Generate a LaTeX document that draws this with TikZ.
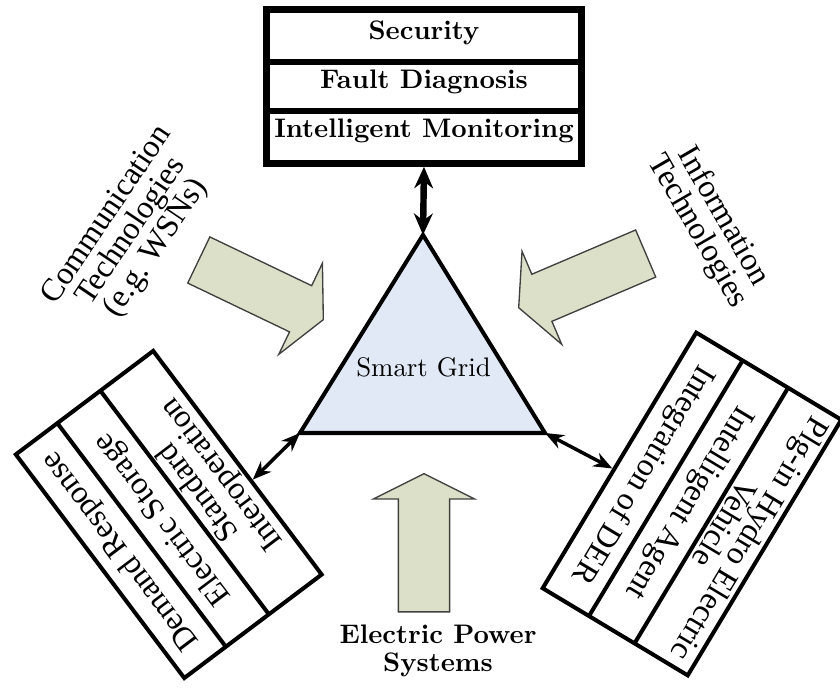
\documentclass[tikz,border=0pt]{standalone}
\usepackage{fontspec}
\newfontfamily\tms{Liberation Serif}
\usetikzlibrary{arrows.meta, calc, shapes.arrows, shapes.multipart}
\tikzset{>={Stealth[length=7pt,width=5.5pt]}}
\definecolor{gridfill}{HTML}{E2E9F6}
\definecolor{sage}{HTML}{DCE0C8}
% one row of a split box: [inner pos]{height}{width}{text}
\newcommand{\cell}[4][c]{\parbox[c][#2][#1]{#3}{\centering#4}}

\begin{document}
\begin{tikzpicture}[x=0.01311cm, y=-0.01311cm,
    tribox/.style={rectangle split, rectangle split parts=3, draw, inner sep=0pt},
    sidefont/.style={font=\tms\fontsize{12}{11}\selectfont},
    bigarrow/.style={single arrow, draw=black!75, fill=sage, line width=0.5pt,
      minimum width=37.3pt, minimum height=51.5pt, inner xsep=0pt, inner ysep=9.3pt,
      single arrow head extend=9.3pt, single arrow tip angle=127, anchor=tip},
  ]
  \useasboundingbox (0,0) rectangle (840,694);

  % the triangle
  \coordinate (apex) at (423,235);
  \coordinate (bl) at (300,433);
  \coordinate (br) at (545,433);
  \draw[fill=gridfill, line width=1.5pt] (apex) -- (bl) -- (br) -- cycle;
  \node (sg) at (423.5,367) {Smart Grid};

  % three split boxes
  \node[tribox, line width=2.5pt, font=\bfseries] (monitor) at (424,86.5) {%
    \cell[t]{17.05pt}{117.6pt}{\vspace{2.8pt}Security}%
    \nodepart{two}\cell[t]{15.8pt}{117.6pt}{\vspace{1.6pt}Fault Diagnosis}%
    \nodepart{three}\cell[t]{17.05pt}{117.6pt}{\vspace{1.6pt}Intelligent Monitoring}};
  \node[tribox, sidefont, line width=1.5pt, rotate=127] (storage) at (168.75,514.5) {%
    \cell{17.9pt}{104.4pt}{Demand Response}%
    \nodepart{two}\cell{18.6pt}{104.4pt}{Electric Storage}%
    \nodepart{three}\cell{23.15pt}{104.4pt}{Standard\\Interoperation}};
  \node[tribox, sidefont, line width=1.5pt, rotate=-121] (agent) at (692,504) {%
    \cell{21.65pt}{111.2pt}{Plg-in Hydro Electric\\Vehicle}%
    \nodepart{two}\cell{18.3pt}{111.2pt}{Intelligent Agent}%
    \nodepart{three}\cell{18.65pt}{111.2pt}{Integration of DER}};

  \draw[<->, line width=2.4pt, >={Stealth[length=8pt,width=7pt]}] (monitor.south) -- (apex);
  \draw[<->, line width=1.3pt] (bl) -- ($(storage.south)!0.16!(storage.south west)$);
  \draw[<->, line width=1.3pt] (br) -- ($(agent.south)!0.07!(agent.south east)$);

  % inputs
  \node[bigarrow, rotate=-25.6] (commarrow) at (324,320) {};
  \node[bigarrow, rotate=-156.9] (infoarrow) at (518,308) {};
  \node[bigarrow, rotate=90] (powerarrow) at (424,473) {};

  \node[rotate=56, align=center, sidefont] (comm) at (132,232)
    {Communication\\Technologies\\(e.g.\ WSNs)};
  \node[rotate=-60, align=center, sidefont] (info) at (710,224) {Information\\Technologies};
  \node[align=center, font=\bfseries\fontsize{10}{10.5}\selectfont] (eps) at (438,651)
    {Electric Power\\Systems};
\end{tikzpicture}
\end{document}
